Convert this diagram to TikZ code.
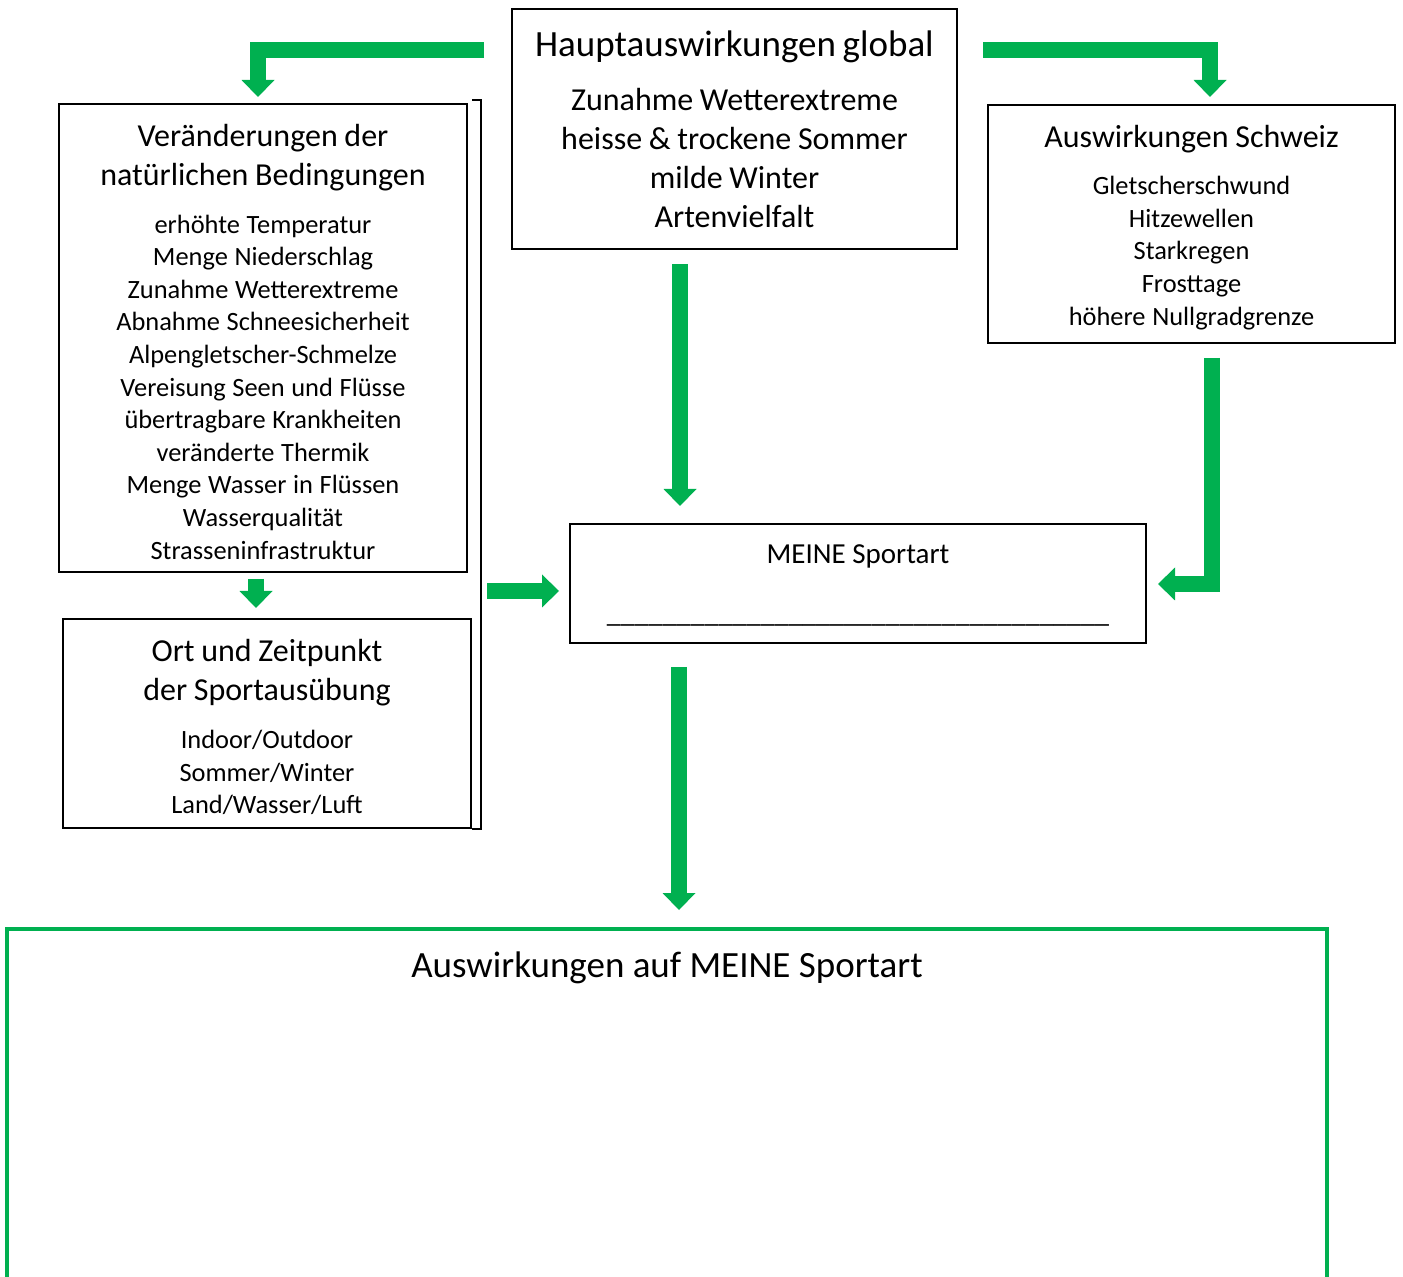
\documentclass[tikz,border=0pt]{standalone}
\usepackage{fontspec}
\setmainfont{Carlito}
\usetikzlibrary{calc,arrows.meta}
\definecolor{officegreen}{RGB}{0,176,80}

\newcommand\bigfont{\fontsize{18.5}{22.5}\selectfont}
\newcommand\headfont{\fontsize{16}{19.5}\selectfont}
\newcommand\listfont{\fontsize{13.2}{16.3}\selectfont}

\tikzset{
	box/.style={draw, line width=1pt, inner sep=0pt, align=center,
		execute at end node={\par\vspace*{-#1}}},
	box/.default=3.5pt,
	fatarrow/.style={draw=officegreen, line width=8pt, line join=miter,
		-{Triangle[length=8.5pt, width=16.5pt, line width=0pt]}},
}

\begin{document}
\begin{tikzpicture}[x=0.5pt, y=-0.5pt]
			%%%%% START %%%%%
			\useasboundingbox (0,0) rectangle (1403,1277);
			
			\node[box=0pt, minimum width=222.5pt, minimum height=120pt, text width=220pt] (global) at (734.5,129)
				{{\bigfont Hauptauswirkungen global\par}\vspace{7.5pt}
				 {\headfont Zunahme Wetterextreme\\ heisse \& trockene Sommer\\ milde Winter\\ Artenvielfalt\par}};
			
			\node[box, minimum width=204pt, minimum height=234pt, text width=200pt] (natur) at (263,338)
				{{\headfont Veränderungen der\\ natürlichen Bedingungen\par}\vspace{7.7pt}
				 {\listfont erhöhte Temperatur\\ Menge Niederschlag\\ Zunahme Wetterextreme\\
				  Abnahme Schneesicherheit\\ Alpengletscher-Schmelze\\ Vereisung Seen und Flüsse\\
				  übertragbare Krankheiten\\ veränderte Thermik\\ Menge Wasser in Flüssen\\
				  Wasserqualität\\ Strasseninfrastruktur\par}};
			
			\node[box, minimum width=204pt, minimum height=104.5pt, text width=200pt] (ort) at (267,723.5)
				{{\headfont Ort und Zeitpunkt\\ der Sportausübung\par}\vspace{7.7pt}
				 {\listfont Indoor/Outdoor\\ Sommer/Winter\\ Land/Wasser/Luft\par}};
			
			\node[box, minimum width=203.5pt, minimum height=119pt, text width=200pt] (schweiz) at (1191.5,224)
				{{\headfont Auswirkungen Schweiz\par}\vspace{7.2pt}
				 {\listfont Gletscherschwund\\ Hitzewellen\\ Starkregen\\ Frosttage\\ höhere Nullgradgrenze\par}};
			
			\node[box=2pt, minimum width=288pt, minimum height=59.5pt, text width=284pt] (sportart) at (858,583.5)
				{{\fontsize{14.5}{17}\selectfont MEINE Sportart\par}\vspace{12.5pt}
				 {\fontsize{14}{17}\selectfont \_\_\_\_\_\_\_\_\_\_\_\_\_\_\_\_\_\_\_\_\_\_\_\_\_\_\_\_\_\_\_\_\_\_\_\_\par}};
			
			% bracket round the two left boxes
			\draw[line width=1pt] ($(natur.north east)+(4,-3)$) -| ($(ort.south east)+(9,0)$) -- (ort.south east);
			
			% open green frame at the bottom
			\coordinate (rahmen) at (667,929);
			\draw[officegreen, line width=2pt] (7,1280) |- (rahmen) -| (1327,1280);
			\node[font=\bigfont] (folgen) at (667,968) {Auswirkungen auf MEINE Sportart};
			
			% arrows
			\draw[fatarrow] ($(global.north west)+(-27,42)$) -| ($(natur.north)+(-5,-6)$);
			\draw[fatarrow] ($(global.north east)+(25,42)$) -| ($(schweiz.north)+(18.5,-7)$);
			\draw[fatarrow] ($(global.south)+(-54.5,14)$) -- ($(sportart.north)+(-178,-17)$);
			\draw[fatarrow] ($(schweiz.south)+(20,14)$) |- ($(sportart.east)+(11,0.5)$);
			\draw[fatarrow] ($(natur.south)+(-7,6)$) -- ($(ort.north)+(-11,-10)$);
			\draw[fatarrow] ($(sportart.west)+(-82,7.5)$) -- ($(sportart.west)+(-10,7.5)$);
			\draw[fatarrow] ($(sportart.south)+(-179,23)$) -- ($(rahmen)+(12,-19)$);
			%%%%% END %%%%%
\end{tikzpicture}
\end{document}
